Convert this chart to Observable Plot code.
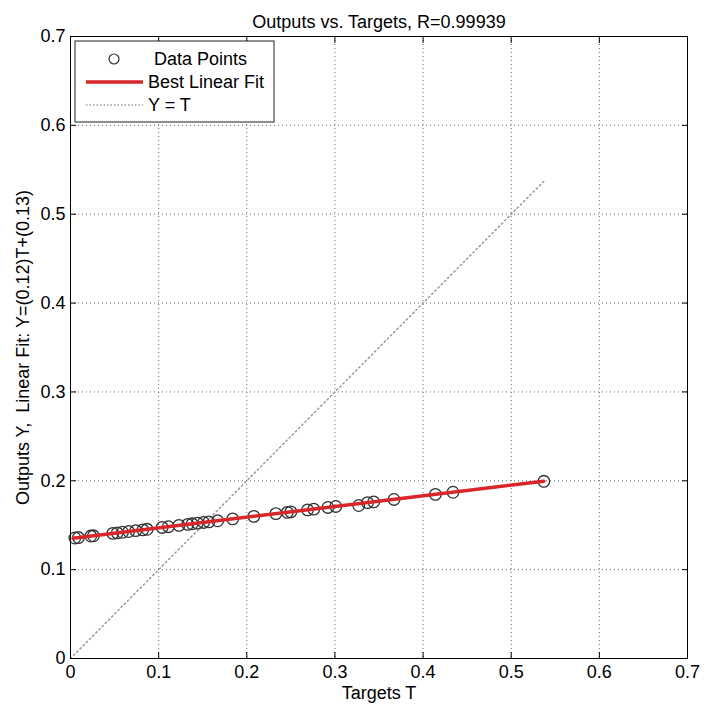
<!DOCTYPE html>
<html>
<head>
<meta charset="utf-8">
<script src="https://cdn.jsdelivr.net/npm/d3@7"></script>
<script src="https://cdn.jsdelivr.net/npm/@observablehq/plot@0.6"></script>
<style>
  html, body { margin: 0; padding: 0; background: white; }
  svg { display: block; }
</style>
</head>
<body>
<div id="chart"></div>
<script>
const titleText = "Outputs vs. Targets, R=0.99939";
const xLabel = "Targets T";
const yLabel = "Outputs Y,  Linear Fit: Y=(0.12)T+(0.13)";

const targets = [0.005, 0.009, 0.023, 0.026, 0.048, 0.053, 0.059, 0.066, 0.074, 0.082,
  0.087, 0.104, 0.111, 0.123, 0.133, 0.138, 0.144, 0.151, 0.157, 0.167,
  0.184, 0.208, 0.233, 0.246, 0.250, 0.269, 0.276, 0.292, 0.301, 0.327,
  0.337, 0.344, 0.367, 0.414, 0.434, 0.537];
const outputs = [0.1356, 0.1361, 0.1378, 0.1381, 0.1408, 0.1414, 0.1421, 0.1429, 0.1439, 0.1448,
  0.1454, 0.1475, 0.1483, 0.1498, 0.1510, 0.1516, 0.1523, 0.1531, 0.1538, 0.1550,
  0.1571, 0.1600, 0.1630, 0.1645, 0.1650, 0.1673, 0.1681, 0.1700, 0.1711, 0.1722,
  0.1754, 0.1763, 0.1790, 0.1847, 0.1871, 0.1994];

const fitT = [0.003, 0.537];
const fitY = [0.1354, 0.1995];
const identityT = [0, 0.537];

const xTicks = [0, 0.1, 0.2, 0.3, 0.4, 0.5, 0.6, 0.7];
const xTickLabels = ["0", "0.1", "0.2", "0.3", "0.4", "0.5", "0.6", "0.7"];
const yTicks = [0, 0.1, 0.2, 0.3, 0.4, 0.5, 0.6, 0.7];
const yTickLabels = ["0", "0.1", "0.2", "0.3", "0.4", "0.5", "0.6", "0.7"];

const legendLabels = ["Data Points", "Best Linear Fit", "Y = T"];

const points = targets.map((t, i) => ({t, y: outputs[i]}));
const fitRows = fitT.map((t, i) => ({t, y: fitY[i]}));
const idRows = identityT.map(t => ({t, y: t}));

const FONT = "'Liberation Sans', Arial, Helvetica, sans-serif";
const RED = "#d8262a";

const chart = Plot.plot({
  width: 705,
  height: 704,
  marginLeft: 70,
  marginRight: 18,
  marginTop: 36,
  marginBottom: 46,
  style: {fontFamily: FONT, fontSize: "18px", background: "white", color: "black"},
  x: {domain: [0, 0.7]},
  y: {domain: [0, 0.7]},
  marks: [
    Plot.gridX(xTicks, {stroke: "#6a6a6a", strokeOpacity: 1, strokeDasharray: "1,3"}),
    Plot.gridY(yTicks, {stroke: "#6a6a6a", strokeOpacity: 1, strokeDasharray: "1,3"}),
    Plot.line(idRows, {x: "t", y: "y", stroke: "#9a9a9a", strokeWidth: 1.5, strokeDasharray: "1.5,3"}),
    Plot.dot(points, {x: "t", y: "y", r: 5.8, stroke: "#333", strokeWidth: 1.3, fill: "none"}),
    Plot.line(fitRows, {x: "t", y: "y", stroke: RED, strokeWidth: 3.5}),
    Plot.axisX(xTicks, {anchor: "bottom", tickSize: -6, tickPadding: 13,
      tickFormat: (d, i) => xTickLabels[i], label: xLabel, labelAnchor: "center", labelArrow: "none", labelOffset: 40}),
    Plot.axisX(xTicks, {anchor: "top", tickSize: -6, tickFormat: () => "", label: null}),
    Plot.axisY(yTicks, {anchor: "left", tickSize: -6, tickPadding: 11,
      tickFormat: (d, i) => yTickLabels[i], label: yLabel, labelAnchor: "center", labelArrow: "none", labelOffset: 54}),
    Plot.axisY(yTicks, {anchor: "right", tickSize: -6, tickFormat: () => "", label: null}),
    Plot.frame({stroke: "black", strokeWidth: 1}),
    Plot.text([titleText], {frameAnchor: "top", dy: -21, fontSize: 18, fill: "black"})
  ]
});

document.getElementById("chart").appendChild(chart);

// Legend box (drawn inside the plot svg)
const svg = d3.select(chart);
const lg = svg.append("g").attr("font-family", FONT).attr("font-size", 18).attr("text-anchor", "start");
lg.append("rect").attr("x", 75).attr("y", 41).attr("width", 199).attr("height", 81)
  .attr("fill", "white").attr("stroke", "#222").attr("stroke-width", 1);
lg.append("circle").attr("cx", 114).attr("cy", 59).attr("r", 5)
  .attr("fill", "none").attr("stroke", "#333").attr("stroke-width", 1.2);
lg.append("line").attr("x1", 86).attr("x2", 143).attr("y1", 82).attr("y2", 82)
  .attr("stroke", RED).attr("stroke-width", 3.5);
lg.append("line").attr("x1", 86).attr("x2", 143).attr("y1", 105).attr("y2", 105)
  .attr("stroke", "#9a9a9a").attr("stroke-width", 1.5).attr("stroke-dasharray", "1.5,2");
const lx = [154, 148, 148];
const ly = [59, 82, 105];
legendLabels.forEach((s, i) => {
  lg.append("text").attr("x", lx[i]).attr("y", ly[i]).attr("dy", "0.35em")
    .attr("text-anchor", "start").attr("fill", "black").text(s);
});
</script>
</body>
</html>
